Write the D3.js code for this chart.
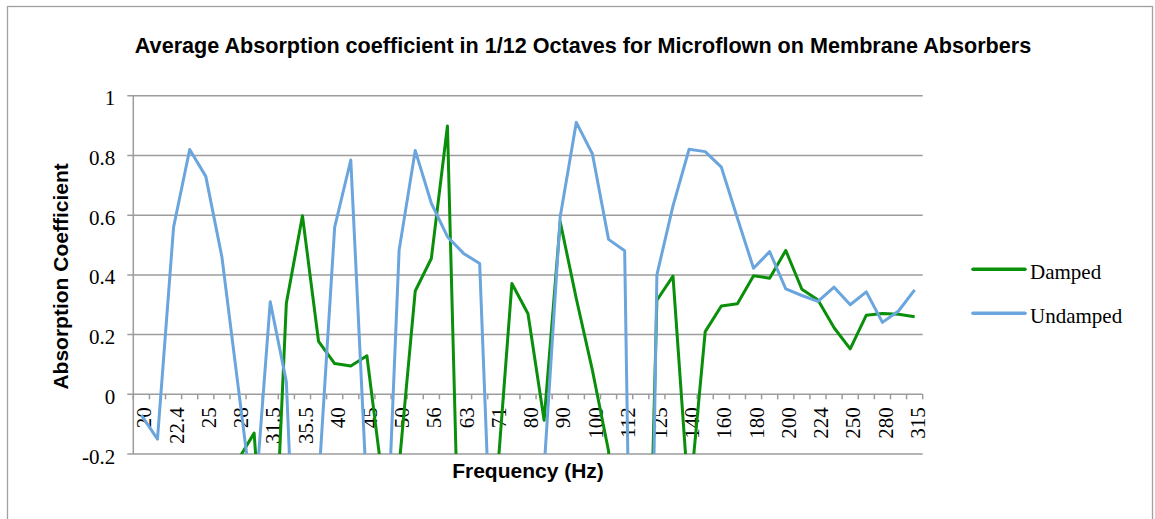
<!DOCTYPE html>
<html>
<head>
<meta charset="utf-8">
<script src="https://cdn.jsdelivr.net/npm/d3@7"></script>
<style>
  body { margin: 0; background: #fff; }
  .serif { font-family: "Liberation Serif", "Times New Roman", serif; font-size: 21px; fill: #000; }
  .bold { font-family: "Liberation Sans", Arial, sans-serif; font-size: 21px; font-weight: bold; fill: #000; }
  .title { font-size: 21.6px; }
  .grid line { stroke: #9c9c9c; stroke-width: 1.5; }
</style>
</head>
<body>
<div id="chart"></div>
<script>
// 1/12 octave bands, every other one gets a label
const frequencies = ["20","21.2","22.4","23.6","25","26.5","28","30","31.5","33.5",
  "35.5","37.5","40","42.5","45","47.5","50","53","56","60",
  "63","67","71","75","80","85","90","95","100","106",
  "112","118","125","132","140","150","160","170","180","190",
  "200","212","224","236","250","265","280","300","315"];

// values below -0.2 are off the chart; those next to visible points are estimated from the slopes, the rest are unreadable (null)
const damped = [null, null, null, null, null, null, -0.22, -0.13, -0.9, 0.305,
  0.598, 0.177, 0.103, 0.095, 0.129, -0.30, -0.24, 0.346, 0.455, 0.899,
  -1.17, null, -0.34, 0.371, 0.27, -0.087, 0.578, 0.32, 0.08, -0.19,
  -1.0, -1.8, 0.315, 0.396, -0.37, 0.21, 0.296, 0.303, 0.397, 0.389,
  0.482, 0.352, 0.316, 0.223, 0.152, 0.265, 0.271, 0.268, 0.26];

const undamped = [-0.07, -0.15, 0.56, 0.82, 0.73, 0.46, 0.03, -0.40, 0.31, 0.042,
  -1.24, -0.30, 0.56, 0.785, -0.34, -0.83, 0.483, 0.817, 0.64, 0.528,
  0.472, 0.438, -0.96, null, null, -0.25, 0.595, 0.911, 0.805, 0.519,
  0.481, -3.0, 0.40, 0.631, 0.821, 0.813, 0.761, 0.59, 0.422, 0.478,
  0.353, 0.331, 0.311, 0.359, 0.30, 0.343, 0.241, 0.279, 0.35];

const yTicks = [-0.2, 0, 0.2, 0.4, 0.6, 0.8, 1];
const yTickLabels = ["-0.2", "0", "0.2", "0.4", "0.6", "0.8", "1"];

const seriesNames = ["Damped", "Undamped"];
const seriesColors = ["#0a8f0a", "#6aa5dd"];

const W = 1155, H = 519;
const margin = { top: 95.8, left: 133.3 };
const width = 789.4;
const height = 358.2;

const root = d3.select("#chart").append("svg")
    .attr("width", W)
    .attr("height", H);

// outer frame
root.append("rect")
    .attr("x", 7.5).attr("y", 6.5)
    .attr("width", 1145).attr("height", 600)
    .attr("fill", "none")
    .attr("stroke", "#a0a0a0")
    .attr("stroke-width", 1.3);

root.append("text")
    .attr("class", "bold title")
    .attr("x", 583).attr("y", 53)
    .attr("text-anchor", "middle")
    .text("Average Absorption coefficient in 1/12 Octaves for Microflown on Membrane Absorbers");

const svg = root.append("g")
    .attr("transform", `translate(${margin.left},${margin.top})`);

const x = d3.scaleBand().domain(frequencies).range([0, width]).padding(0);
const y = d3.scaleLinear().domain([-0.2, 1]).range([height, 0]);
const cx = f => x(f) + x.bandwidth() / 2;

// gridlines (with small outward ticks on the left)
svg.append("g").attr("class", "grid")
  .selectAll("line")
  .data(yTicks)
  .join("line")
    .attr("x1", -6).attr("x2", width)
    .attr("y1", d => y(d)).attr("y2", d => y(d));

// y axis line
svg.append("line")
    .attr("x1", 0).attr("x2", 0)
    .attr("y1", 0).attr("y2", height)
    .attr("stroke", "#9c9c9c").attr("stroke-width", 1.5);

const yAxis = svg.append("g")
    .call(d3.axisLeft(y).tickValues(yTicks).tickFormat((d, i) => yTickLabels[i]).tickSize(0).tickPadding(18));
yAxis.select(".domain").remove();
yAxis.attr("font-size", null).attr("font-family", null);
yAxis.selectAll("text")
    .attr("class", "serif")
    .attr("dy", "0.43em");

// x axis along zero, ticks at band edges
const xEdges = frequencies.map(f => x(f)).concat([width]);
svg.append("g").attr("class", "grid")
  .selectAll("line")
  .data(xEdges)
  .join("line")
    .attr("x1", d => d).attr("x2", d => d)
    .attr("y1", y(0)).attr("y2", y(0) + 5);

svg.append("g")
  .selectAll("text")
  .data(frequencies.filter((f, i) => i % 2 === 0))
  .join("text")
    .attr("class", "serif")
    .attr("text-anchor", "end")
    .attr("dy", "0.48em")
    .attr("transform", d => `translate(${cx(d)},${y(0) + 13}) rotate(-90)`)
    .text(d => d);

// series, clipped to the plot area
svg.append("clipPath").attr("id", "plot-clip")
  .append("rect")
    .attr("x", 0).attr("y", 0)
    .attr("width", width).attr("height", height);

const line = d3.line()
    .defined(d => d != null)
    .x((d, i) => cx(frequencies[i]))
    .y(d => y(d));

svg.append("g")
    .attr("clip-path", "url(#plot-clip)")
  .selectAll("path")
  .data([damped, undamped])
  .join("path")
    .attr("fill", "none")
    .attr("stroke", (d, i) => seriesColors[i])
    .attr("stroke-width", 3)
    .attr("stroke-linejoin", "round")
    .attr("d", line);

// axis titles
svg.append("text")
    .attr("class", "bold")
    .attr("x", width / 2).attr("y", 382.2)
    .attr("text-anchor", "middle")
    .text("Frequency (Hz)");

svg.append("text")
    .attr("class", "bold")
    .attr("text-anchor", "middle")
    .attr("transform", `translate(-65,${height / 2 + 1.5}) rotate(-90)`)
    .text("Absorption Coefficient");

// legend
const legend = root.selectAll(".legend")
  .data(seriesNames)
  .join("g")
    .attr("class", "legend")
    .attr("transform", (d, i) => `translate(973,${269.3 + i * 44})`);

legend.append("line")
    .attr("x1", 0).attr("x2", 52)
    .attr("stroke", (d, i) => seriesColors[i])
    .attr("stroke-width", 3.5)
    .attr("stroke-linecap", "round");

legend.append("text")
    .attr("class", "serif")
    .attr("x", 57)
    .attr("dy", "0.48em")
    .text(d => d);
</script>
</body>
</html>
